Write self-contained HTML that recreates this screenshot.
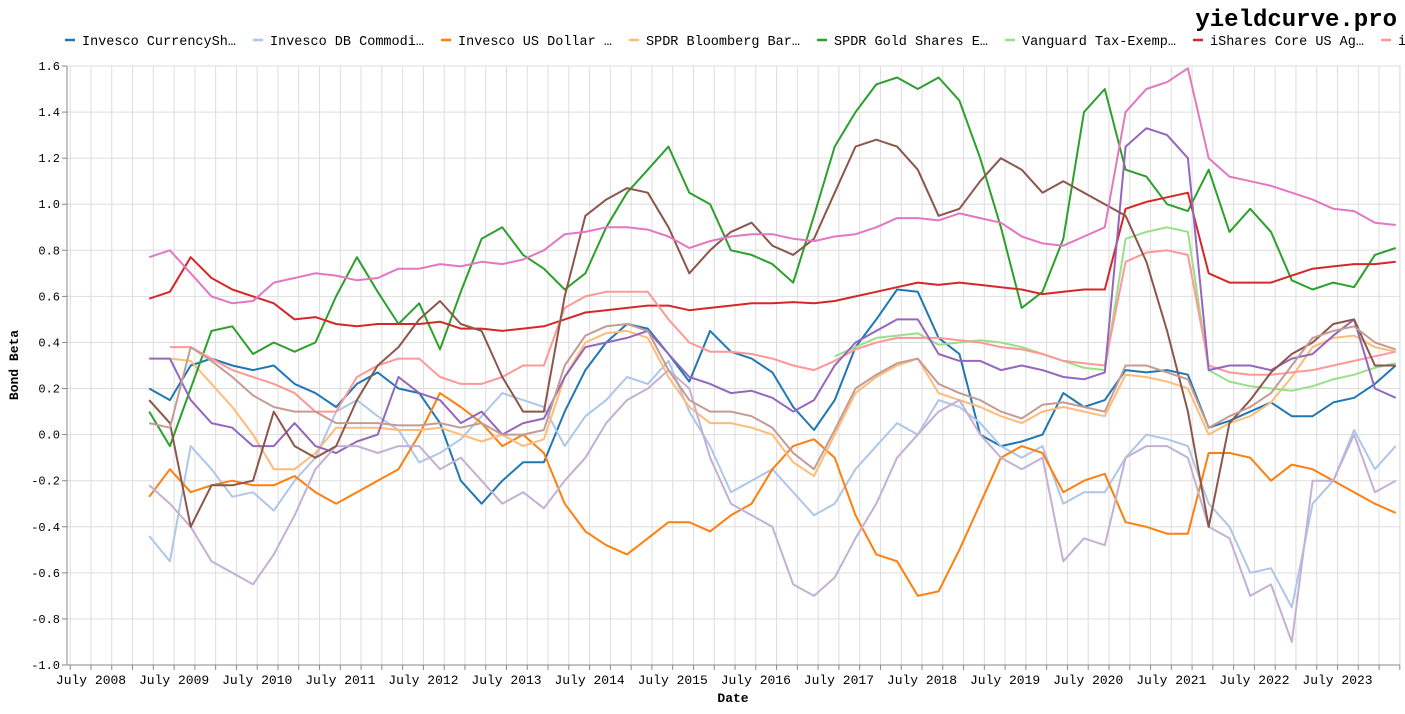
<!DOCTYPE html>
<html><head><meta charset="utf-8"><style>
body{margin:0;background:#fff;width:1405px;height:709px;overflow:hidden;font-family:"Liberation Mono",monospace}
svg text{font-family:"Liberation Mono",monospace}
</style></head><body>
<svg id="chart" width="1405" height="709" viewBox="0 0 1405 709" xmlns="http://www.w3.org/2000/svg">
<text x="1397" y="26" text-anchor="end" font-size="24" font-weight="bold" fill="#000">yieldcurve.pro</text>
<g id="legend"></g>
<g id="grid"></g>
<g id="axes"></g>
<g id="series"></g>
<text transform="translate(18,365) rotate(-90)" text-anchor="middle" font-size="13" font-weight="bold">Bond Beta</text>
<text x="733" y="702" text-anchor="middle" font-size="13" font-weight="bold">Date</text>
</svg>
<script>
const seriesNames = ["Invesco CurrencySh…","Invesco DB Commodi…","Invesco US Dollar …","SPDR Bloomberg Bar…","SPDR Gold Shares E…","Vanguard Tax-Exemp…","iShares Core US Ag…","i…","purple","lightpurple","brown","lightbrown","pink"];
const colors = ["#1f77b4","#aec7e8","#ff7f0e","#ffbb78","#2ca02c","#98df8a","#d62728","#ff9896","#9467bd","#c5b0d5","#8c564b","#c49c94","#e377c2"];
const startYear = 2009.2;
const stepYears = 0.25;
const yTicks = [1.6,1.4,1.2,1.0,0.8,0.6,0.4,0.2,0.0,-0.2,-0.4,-0.6,-0.8,-1.0];
const xTickYears = [2008,2009,2010,2011,2012,2013,2014,2015,2016,2017,2018,2019,2020,2021,2022,2023];
const N = null;
const blue = [0.20,0.15,0.30,0.33,0.30,0.28,0.30,0.22,0.18,0.12,0.22,0.27,0.20,0.18,0.05,-0.20,-0.30,-0.20,-0.12,-0.12,0.10,0.28,0.40,0.48,0.46,0.35,0.23,0.45,0.36,0.33,0.27,0.12,0.02,0.15,0.38,0.50,0.63,0.62,0.42,0.35,0.00,-0.05,-0.03,0.00,0.18,0.12,0.15,0.28,0.27,0.28,0.26,0.03,0.06,0.10,0.14,0.08,0.08,0.14,0.16,0.22,0.30];
const lightBlue = [-0.44,-0.55,-0.05,-0.15,-0.27,-0.25,-0.33,-0.20,-0.10,0.10,0.15,0.08,0.02,-0.12,-0.08,-0.02,0.08,0.18,0.15,0.12,-0.05,0.08,0.15,0.25,0.22,0.32,0.10,-0.05,-0.25,-0.20,-0.15,-0.25,-0.35,-0.30,-0.15,-0.05,0.05,0.00,0.15,0.12,0.05,-0.05,-0.10,-0.05,-0.30,-0.25,-0.25,-0.10,0.00,-0.02,-0.05,-0.30,-0.40,-0.60,-0.58,-0.75,-0.30,-0.20,0.02,-0.15,-0.05];
const orange = [-0.27,-0.15,-0.25,-0.22,-0.20,-0.22,-0.22,-0.18,-0.25,-0.30,-0.25,-0.20,-0.15,0.00,0.18,0.12,0.05,-0.05,0.00,-0.08,-0.30,-0.42,-0.48,-0.52,-0.45,-0.38,-0.38,-0.42,-0.35,-0.30,-0.15,-0.05,-0.02,-0.10,-0.35,-0.52,-0.55,-0.70,-0.68,-0.50,-0.30,-0.10,-0.05,-0.08,-0.25,-0.20,-0.17,-0.38,-0.40,-0.43,-0.43,-0.08,-0.08,-0.10,-0.20,-0.13,-0.15,-0.20,-0.25,-0.30,-0.34];
const lightOrange = [N,0.33,0.32,0.22,0.12,0.00,-0.15,-0.15,-0.08,0.03,0.03,0.03,0.02,0.02,0.03,0.00,-0.03,0.00,-0.05,-0.02,0.25,0.40,0.44,0.45,0.42,0.25,0.12,0.05,0.05,0.03,0.00,-0.12,-0.18,0.00,0.18,0.25,0.30,0.33,0.18,0.15,0.12,0.08,0.05,0.10,0.12,0.10,0.08,0.26,0.25,0.23,0.20,0.00,0.05,0.08,0.14,0.25,0.38,0.42,0.43,0.38,0.36];
const green = [0.10,-0.05,0.20,0.45,0.47,0.35,0.40,0.36,0.40,0.60,0.77,0.62,0.48,0.57,0.37,0.62,0.85,0.90,0.78,0.72,0.63,0.70,0.90,1.05,1.15,1.25,1.05,1.00,0.80,0.78,0.74,0.66,0.95,1.25,1.40,1.52,1.55,1.50,1.55,1.45,1.20,0.90,0.55,0.62,0.85,1.40,1.50,1.15,1.12,1.00,0.97,1.15,0.88,0.98,0.88,0.67,0.63,0.66,0.64,0.78,0.81];
const lightGreen = [N,N,N,N,N,N,N,N,N,N,N,N,N,N,N,N,N,N,N,N,N,N,N,N,N,N,N,N,N,N,N,N,N,0.34,0.38,0.42,0.43,0.44,0.39,0.40,0.41,0.40,0.38,0.35,0.32,0.29,0.28,0.85,0.88,0.90,0.88,0.28,0.23,0.21,0.20,0.19,0.21,0.24,0.26,0.29,0.31];
const red = [0.59,0.62,0.77,0.68,0.63,0.60,0.57,0.50,0.51,0.48,0.47,0.48,0.48,0.48,0.49,0.46,0.46,0.45,0.46,0.47,0.50,0.53,0.54,0.55,0.56,0.56,0.54,0.55,0.56,0.57,0.57,0.575,0.57,0.58,0.60,0.62,0.64,0.66,0.65,0.66,0.65,0.64,0.63,0.61,0.62,0.63,0.63,0.98,1.01,1.03,1.05,0.70,0.66,0.66,0.66,0.69,0.72,0.73,0.74,0.74,0.75];
const lightRed = [N,0.38,0.38,0.33,0.28,0.25,0.22,0.18,0.10,0.10,0.25,0.30,0.33,0.33,0.25,0.22,0.22,0.25,0.30,0.30,0.55,0.60,0.62,0.62,0.62,0.50,0.40,0.36,0.36,0.35,0.33,0.30,0.28,0.32,0.37,0.40,0.42,0.42,0.42,0.41,0.40,0.38,0.37,0.35,0.32,0.31,0.30,0.75,0.79,0.80,0.78,0.30,0.27,0.26,0.26,0.27,0.28,0.30,0.32,0.34,0.36];
const purple = [0.33,0.33,0.15,0.05,0.03,-0.05,-0.05,0.05,-0.05,-0.08,-0.03,0.00,0.25,0.18,0.15,0.05,0.10,0.00,0.05,0.07,0.25,0.38,0.40,0.42,0.45,0.35,0.25,0.22,0.18,0.19,0.16,0.10,0.15,0.30,0.40,0.45,0.50,0.50,0.35,0.32,0.32,0.28,0.30,0.28,0.25,0.24,0.27,1.25,1.33,1.30,1.20,0.28,0.30,0.30,0.28,0.33,0.35,0.43,0.50,0.20,0.16];
const lightPurple = [-0.22,-0.30,-0.40,-0.55,-0.60,-0.65,-0.52,-0.35,-0.15,-0.05,-0.05,-0.08,-0.05,-0.05,-0.15,-0.10,-0.20,-0.30,-0.25,-0.32,-0.20,-0.10,0.05,0.15,0.20,0.28,0.20,-0.10,-0.30,-0.35,-0.40,-0.65,-0.70,-0.62,-0.45,-0.30,-0.10,0.00,0.10,0.15,0.00,-0.10,-0.15,-0.10,-0.55,-0.45,-0.48,-0.10,-0.05,-0.05,-0.10,-0.40,-0.45,-0.70,-0.65,-0.90,-0.20,-0.20,0.00,-0.25,-0.20];
const brown = [0.15,0.05,-0.40,-0.22,-0.22,-0.20,0.10,-0.05,-0.10,-0.05,0.15,0.30,0.38,0.50,0.58,0.48,0.45,0.25,0.10,0.10,0.60,0.95,1.02,1.07,1.05,0.90,0.70,0.80,0.88,0.92,0.82,0.78,0.85,1.05,1.25,1.28,1.25,1.15,0.95,0.98,1.10,1.20,1.15,1.05,1.10,1.05,1.00,0.95,0.75,0.45,0.10,-0.40,0.05,0.15,0.27,0.35,0.40,0.48,0.50,0.30,0.30];
const lightBrown = [0.05,0.03,0.38,0.32,0.25,0.17,0.12,0.10,0.10,0.05,0.05,0.05,0.04,0.04,0.05,0.03,0.05,0.00,0.00,0.02,0.30,0.43,0.47,0.48,0.45,0.28,0.15,0.10,0.10,0.08,0.03,-0.08,-0.15,0.02,0.20,0.26,0.31,0.33,0.22,0.18,0.15,0.10,0.07,0.13,0.14,0.12,0.10,0.30,0.30,0.27,0.24,0.03,0.08,0.12,0.18,0.30,0.42,0.45,0.47,0.40,0.37];
const pink = [0.77,0.80,0.70,0.60,0.57,0.58,0.66,0.68,0.70,0.69,0.67,0.68,0.72,0.72,0.74,0.73,0.75,0.74,0.76,0.80,0.87,0.88,0.90,0.90,0.89,0.86,0.81,0.84,0.86,0.87,0.87,0.85,0.84,0.86,0.87,0.90,0.94,0.94,0.93,0.96,0.94,0.92,0.86,0.83,0.82,0.86,0.90,1.40,1.50,1.53,1.59,1.20,1.12,1.10,1.08,1.05,1.02,0.98,0.97,0.92,0.91];
const allSeries = [blue,lightBlue,orange,lightOrange,green,lightGreen,red,lightRed,purple,lightPurple,brown,lightBrown,pink];

const X0=67,X1=1400,Y0=66,Y1=665;
function xScale(t){return 91+(t-2008.5)*83.1;}
function yScale(v){return Y0+(1.6-v)*(Y1-Y0)/2.6;}
const NS="http://www.w3.org/2000/svg";
function mk(tag,attrs,parent){const e=document.createElementNS(NS,tag);for(const k in attrs)e.setAttribute(k,attrs[k]);parent.appendChild(e);return e;}
const grid=document.getElementById('grid'),axes=document.getElementById('axes'),ser=document.getElementById('series'),leg=document.getElementById('legend');
// vertical grid (quarterly)
for(let t=2008.25;t<=2024.3;t+=0.25){const x=xScale(t);if(x<X0||x>X1)continue;
 const l=mk('line',{x1:x,x2:x,y1:Y0,y2:Y1,stroke:'#ddd','stroke-width':1},grid);
 
 
 const tk=mk('line',{x1:x,x2:x,y1:Y1,y2:Y1+5,stroke:'#888'},axes);
 
 }
yTicks.forEach(v=>{const y=yScale(v);
 const l=mk('line',{x1:X0,x2:X1,y1:y,y2:y,stroke:'#ddd'},grid);
 
 
 const tk=mk('line',{x1:X0-5,x2:X0,y1:y,y2:y,stroke:'#888'},axes);
 
 
 const tx=mk('text',{x:X0-7,y:y+4,'text-anchor':'end','font-size':12},axes);tx.textContent=v.toFixed(1);
 
 });
const rb=mk('rect',{x:X0,y:Y0,width:X1-X0,height:Y1-Y0,fill:'none',stroke:'#ddd'},axes);


const ax=mk('line',{x1:X0,x2:X0,y1:Y0,y2:Y1,stroke:'#888'},axes);


const bx=mk('line',{x1:X0,x2:X1,y1:Y1,y2:Y1,stroke:'#888'},axes);


xTickYears.forEach(yr=>{const tx=mk('text',{x:xScale(yr+0.5),y:Y1+19,'text-anchor':'middle','font-size':13},axes);tx.textContent='July '+yr;
 
 });
allSeries.forEach((arr,i)=>{let d='',pen=false;
 arr.forEach((v,k)=>{if(v===null){pen=false;return;}const x=xScale(startYear+k*stepYears),y=yScale(v);d+=(pen?'L':'M')+x.toFixed(1)+','+y.toFixed(1);pen=true;});
 const p=mk('path',{d:d,fill:'none',stroke:colors[i],'stroke-width':2,'stroke-linejoin':'round'},ser);
 
 });
for(let i=0;i<8;i++){const x0=65+i*188;
 const g=mk('g',{},leg);
 
 
 mk('line',{x1:x0,x2:x0+10,y1:40,y2:40,stroke:colors[i],'stroke-width':2.5},g);
 const t=mk('text',{x:x0+17,y:45,'font-size':13.5},g);t.textContent=seriesNames[i];}
</script>
</body></html>
